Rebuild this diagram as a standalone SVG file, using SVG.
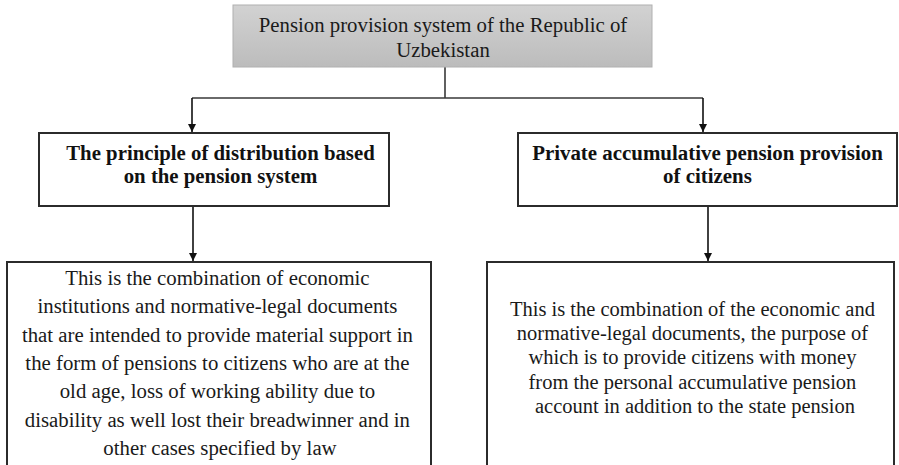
<svg xmlns="http://www.w3.org/2000/svg" width="899" height="465" viewBox="0 0 899 465">
  <style>
    .box { fill: #ffffff; stroke: #2b2b2b; stroke-width: 2; }
    .head { fill: url(#gray); stroke: #b0b0b0; stroke-width: 1; }
    .wire { fill: none; stroke: #3a3a3a; stroke-width: 1.6; }
    .arrow { fill: none; stroke: #111; stroke-width: 1.6; marker-end: url(#head); }
  </style>
  <defs>
    <linearGradient id="gray" x1="0" y1="0" x2="0" y2="1">
      <stop offset="0" stop-color="#d2d2d2"/>
      <stop offset="1" stop-color="#bcbcbc"/>
    </linearGradient>
    <marker id="head" viewBox="0 0 10 10" refX="10" refY="5" markerWidth="5" markerHeight="5" markerUnits="strokeWidth" orient="auto">
      <path d="M0,0 L10,5 L0,10 z" fill="#111"/>
    </marker>
  </defs>

  <g id="connectors">
    <path class="wire" d="M445,67 V98 M192,98 H703"/>
    <path class="arrow" d="M192,98 V132"/>
    <path class="arrow" d="M703,98 V132"/>
    <path class="arrow" d="M193,206 V261"/>
    <path class="arrow" d="M708,206 V261"/>
  </g>

  <g id="pension-system">
    <rect class="head" x="233" y="5" width="419" height="62"/>
    <text font-family="Liberation Serif" font-size="20.8" fill="#1a1a1a" text-anchor="middle" x="443" y="32">Pension provision system of the Republic of</text>
    <text font-family="Liberation Serif" font-size="20.8" fill="#1a1a1a" text-anchor="middle" x="443" y="57">Uzbekistan</text>
  </g>

  <g id="distribution-principle">
    <rect class="box" x="39" y="133" width="350" height="73"/>
    <text font-family="Liberation Serif" font-weight="bold" font-size="20.8" fill="#111" text-anchor="middle" x="220.5" y="160">The principle of distribution based</text>
    <text font-family="Liberation Serif" font-weight="bold" font-size="20.8" fill="#111" text-anchor="middle" x="220.5" y="183">on the pension system</text>
  </g>

  <g id="private-accumulative">
    <rect class="box" x="518" y="133" width="379" height="73"/>
    <text font-family="Liberation Serif" font-weight="bold" font-size="20.9" fill="#111" text-anchor="middle" x="707.5" y="160">Private accumulative pension provision</text>
    <text font-family="Liberation Serif" font-weight="bold" font-size="20.9" fill="#111" text-anchor="middle" x="707.5" y="183">of citizens</text>
  </g>

  <g id="distribution-description">
    <rect class="box" x="7" y="262" width="424" height="220"/>
    <text font-family="Liberation Serif" font-size="20.8" fill="#1a1a1a" text-anchor="middle">
      <tspan x="220" y="285">This is the combination of economic</tspan>
      <tspan x="220" y="313">institutions and normative-legal documents</tspan>
      <tspan x="220" y="342">that are intended to provide material support in</tspan>
      <tspan x="220" y="370">the form of pensions to citizens who are at the</tspan>
      <tspan x="220" y="398">old age, loss of working ability due to</tspan>
      <tspan x="220" y="427">disability as well lost their breadwinner and in</tspan>
      <tspan x="220" y="455">other cases specified by law</tspan>
    </text>
  </g>

  <g id="private-description">
    <rect class="box" x="487" y="262" width="407" height="220"/>
    <text font-family="Liberation Serif" font-size="20.5" fill="#1a1a1a" text-anchor="middle">
      <tspan x="695" y="316">This is the combination of the economic and</tspan>
      <tspan x="695" y="340">normative-legal documents, the purpose of</tspan>
      <tspan x="695" y="364">which is to provide citizens with money</tspan>
      <tspan x="695" y="389">from the personal accumulative pension</tspan>
      <tspan x="695" y="413">account in addition to the state pension</tspan>
    </text>
  </g>
</svg>
